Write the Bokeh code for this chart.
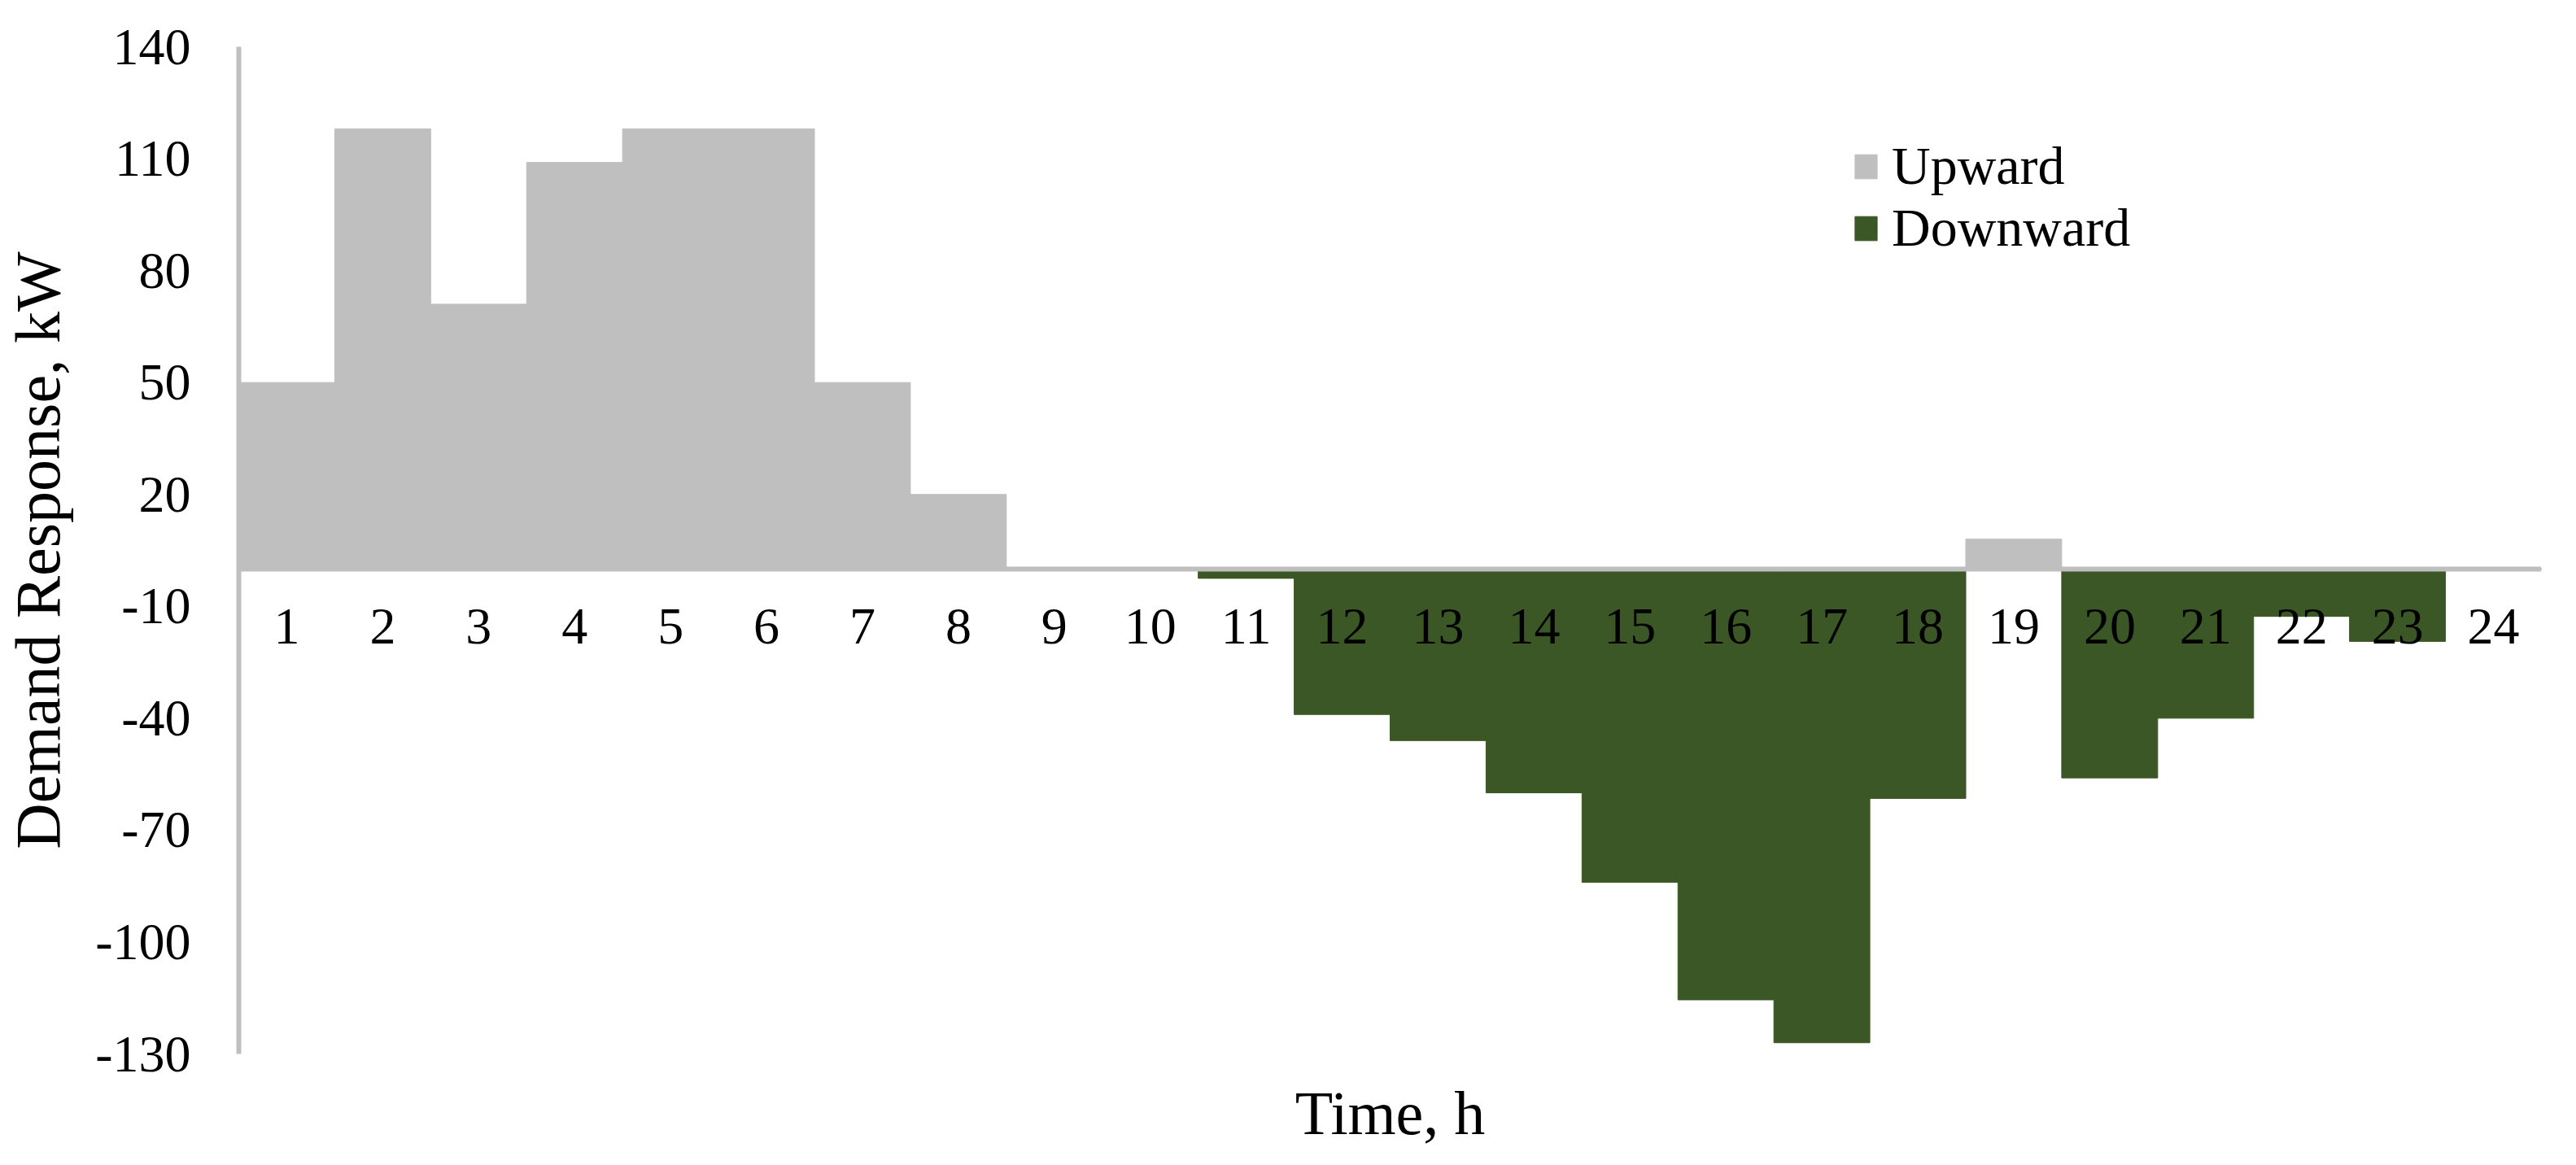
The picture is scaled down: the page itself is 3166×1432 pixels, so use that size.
from bokeh.plotting import figure
from bokeh.models import Range1d, FixedTicker, LinearAxis, Legend, LegendItem
from bokeh.embed import file_html
from bokeh.resources import INLINE

hours = list(range(1, 25))
hour_labels = [str(h) for h in hours]
upward = [50, 118, 71, 109, 118, 118, 50, 20, 0, 0, 0, 0, 0, 0, 0, 0, 0, 0, 8, 0, 0, 0, 0, 0]
downward = [0, 0, 0, 0, 0, 0, 0, 0, 0, 0, -2.5, -39, -46, -60, -84, -115.5, -127, -61.5, 0, -56, -40, -12.7, -19.4, 0]
y_ticks = [-130, -100, -70, -40, -10, 20, 50, 80, 110, 140]
y_tick_labels = ["-130", "-100", "-70", "-40", "-10", "20", "50", "80", "110", "140"]

GRAY = "#BFBFBF"
GREEN = "#3B5725"
FONT = "Liberation Serif"

p = figure(width=3150, height=1416, output_backend="svg", toolbar_location=None,
           x_range=Range1d(0.5, 24.5), y_range=Range1d(-130, 140),
           x_axis_location=None, min_border_left=291, min_border_right=27,
           min_border_top=57, min_border_bottom=121)
p.outline_line_color = None
p.background_fill_color = "white"
p.xgrid.visible = False
p.ygrid.visible = False

r_up = p.vbar(x=hours, top=upward, bottom=0, width=1.0, fill_color=GRAY,
              line_color=GRAY, line_width=1)
r_down = p.vbar(x=hours, top=downward, bottom=0, width=1.0, fill_color=GREEN,
                line_color=GREEN, line_width=1)

# y axis
ya = p.yaxis[0]
ya.ticker = FixedTicker(ticks=y_ticks)
ya.major_label_overrides = {t: s for t, s in zip(y_ticks, y_tick_labels)}
ya.axis_line_color = GRAY
ya.axis_line_width = 6
ya.major_tick_line_color = None
ya.minor_tick_line_color = None
ya.major_tick_out = 0
ya.major_tick_in = 0
ya.major_label_standoff = 59
ya.major_label_text_font = FONT
ya.major_label_text_font_size = "64px"
ya.major_label_text_color = "black"
ya.axis_label = "Demand Response, kW"
ya.axis_label_text_font = FONT
ya.axis_label_text_font_size = "78px"
ya.axis_label_text_font_style = "normal"
ya.axis_label_text_color = "black"
ya.axis_label_standoff = 24

# category axis at zero
xa = LinearAxis(fixed_location=0, ticker=FixedTicker(ticks=hours),
                major_label_overrides={h: s for h, s in zip(hours, hour_labels)})
xa.axis_line_color = GRAY
xa.axis_line_width = 6
xa.major_tick_line_color = None
xa.minor_tick_line_color = None
xa.major_tick_out = 0
xa.major_tick_in = 0
xa.major_label_standoff = 50
xa.major_label_text_font = FONT
xa.major_label_text_font_size = "64px"
xa.major_label_text_color = "black"
p.add_layout(xa, "below")

# title axis at bottom
xt = LinearAxis(ticker=FixedTicker(ticks=[]), axis_label="Time, h")
xt.axis_line_color = None
xt.major_tick_line_color = None
xt.minor_tick_line_color = None
xt.major_label_text_font_size = "0px"
xt.axis_label_text_font = FONT
xt.axis_label_text_font_size = "76px"
xt.axis_label_text_font_style = "normal"
xt.axis_label_text_color = "black"
xt.axis_label_standoff = 30
p.add_layout(xt, "below")

legend = Legend(items=[LegendItem(label="Upward", renderers=[r_up]),
                       LegendItem(label="Downward", renderers=[r_down])],
                location=(1983, 977), glyph_width=34, glyph_height=37,
                label_standoff=15, spacing=0, padding=0, margin=0,
                border_line_color=None, background_fill_alpha=0,
                label_text_font=FONT, label_text_font_size="66px",
                label_text_color="black")
p.add_layout(legend)

open("out.html", "w").write(file_html(p, INLINE))
